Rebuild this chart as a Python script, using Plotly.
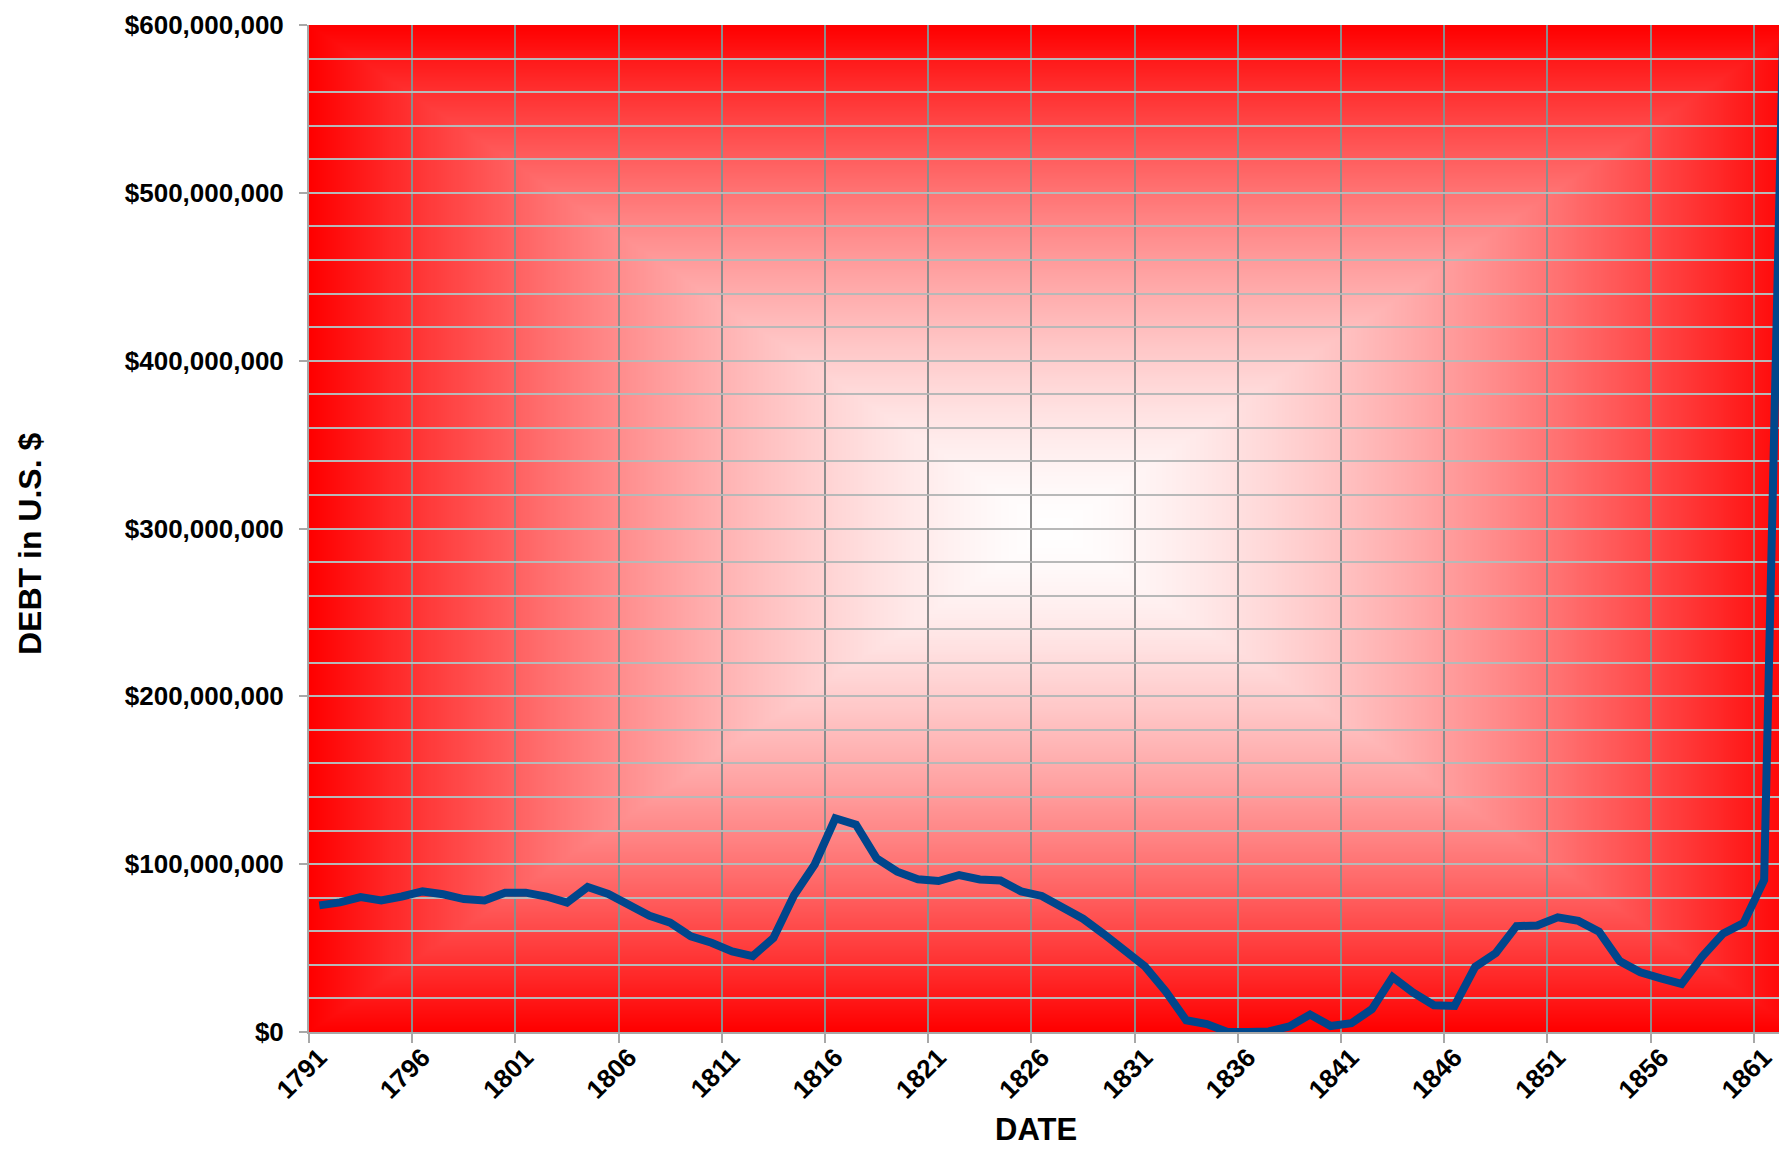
import base64
import struct
import zlib

import numpy as np
import plotly.graph_objects as go

# ---------------- data ----------------
years = list(range(1791, 1863))
debt = [
    75463476, 77227924, 80358634, 78427405, 80747587, 83762172, 82064479, 79228529,
    78408670, 82976294, 83038051, 80712632, 77054686, 86427121, 82312151, 75723271,
    69218399, 65196318, 57023192, 53173218, 48005588, 45209738, 55962828, 81487846,
    99833660, 127334934, 123491965, 103466634, 95529648, 91015566, 89987428, 93546677,
    90875877, 90269778, 83788433, 81054060, 73987357, 67475044, 58421414, 48565406,
    39123192, 24322235, 7001699, 4760082, 33733, 37513, 336958, 3308124,
    10434221, 3573344, 5250876, 13594481, 32742922, 23461653, 15925303, 15550203,
    38826535, 47044862, 63061859, 63452774, 68304796, 66199342, 59803118, 42242222,
    35586957, 31972538, 28699832, 44911881, 58496838, 64842288, 90580874, 640000000,
]
label_years = years[::5]
label_text = [str(y) for y in label_years]
y_ticks = [0, 100000000, 200000000, 300000000, 400000000, 500000000, 600000000]

# ---------------- background gradient (rectangular, from centre) ----------------
W, H = 740, 504
PLOT_L, PLOT_W, PLOT_T, PLOT_H = 309, 1470, 25, 1007
cx, hw = 1055.0, 746.0
cy, hh = 528.5, 503.5
xs = PLOT_L + (np.arange(W) + 0.5) * PLOT_W / W
ys = PLOT_T + (np.arange(H) + 0.5) * PLOT_H / H
dx = np.abs(xs[None, :] - cx) / hw
dy = np.abs(ys[:, None] - cy) / hh
t = np.clip(np.maximum(dx, dy), 0, 1)
g = np.clip(255 * (1 - t ** 1.5), 0, 255).astype(np.uint8)
img = np.zeros((H, W, 3), dtype=np.uint8)
img[..., 0] = 255
img[..., 1] = g
img[..., 2] = g


def png_bytes(arr):
    h, w, _ = arr.shape
    raw = b"".join(b"\x00" + arr[r].tobytes() for r in range(h))

    def chunk(tag, data):
        c = struct.pack(">I", len(data)) + tag + data
        return c + struct.pack(">I", zlib.crc32(tag + data) & 0xFFFFFFFF)

    return (b"\x89PNG\r\n\x1a\n"
            + chunk(b"IHDR", struct.pack(">IIBBBBB", w, h, 8, 2, 0, 0, 0))
            + chunk(b"IDAT", zlib.compress(raw, 9))
            + chunk(b"IEND", b""))


bg_src = "data:image/png;base64," + base64.b64encode(png_bytes(img)).decode()

FONT = "Liberation Sans, Arial, sans-serif"

fig = go.Figure()
fig.add_trace(go.Scatter(
    x=years, y=debt, mode="lines",
    line=dict(color="#00468C", width=8),
    hoverinfo="x+y", showlegend=False,
))

fig.update_layout(
    width=1779, height=1151,
    margin=dict(l=309, r=0, t=25, b=119),
    paper_bgcolor="white",
    plot_bgcolor="#ff0000",
    images=[dict(
        source=bg_src, xref="x domain", yref="y domain",
        x=0, y=1, sizex=1, sizey=1, xanchor="left", yanchor="top",
        sizing="stretch", layer="below",
    )],
    xaxis=dict(
        range=[1790.5, 1861.72],
        tickmode="array", tickvals=label_years, ticktext=label_text,
        tickangle=-45, ticks="", showgrid=False, zeroline=False,
        tickfont=dict(family=FONT, size=26, color="black", weight="bold"),
        ticklabelstandoff=-2,
        showline=True, linecolor="#a8a8a8", linewidth=2,
        minor=dict(tickmode="linear", tick0=1790.5, dtick=5,
                   ticks="outside", ticklen=9, tickcolor="#a8a8a8", tickwidth=2,
                   showgrid=True, gridcolor="#8c8c8c", gridwidth=1.8),
    ),
    yaxis=dict(
        range=[0, 600000000],
        tickmode="array", tickvals=y_ticks, tickformat="$,.0f",
        ticks="outside", ticklen=8, tickcolor="#a8a8a8", tickwidth=2,
        showgrid=True, gridcolor="#b8b8b8", gridwidth=1.8, zeroline=False,
        tickfont=dict(family=FONT, size=26, color="black", weight="bold"),
        ticklabelstandoff=10,
        showline=True, linecolor="#a8a8a8", linewidth=2,
        minor=dict(tickmode="linear", tick0=0, dtick=20000000,
                   showgrid=True, gridcolor="#b8b8b8", gridwidth=1.8, ticks=""),
    ),
    annotations=[
        dict(text="DEBT in U.S. $", xref="paper", yref="paper",
             x=(30 - 309) / 1470, y=(1032 - 544) / 1007,
             xanchor="center", yanchor="middle", textangle=-90, showarrow=False,
             font=dict(family=FONT, size=32, color="black", weight="bold")),
        dict(text="DATE", xref="paper", yref="paper",
             x=(1036 - 309) / 1470, y=(1032 - 1129) / 1007,
             xanchor="center", yanchor="middle", showarrow=False,
             font=dict(family=FONT, size=31, color="black", weight="bold")),
    ],
)

fig.write_html(
    "out.html",
    config={"displayModeBar": False},
    post_script=(
        "document.body.style.margin='0';"
        "document.body.style.overflow='hidden';"
        "document.documentElement.style.overflow='hidden';"
    ),
)
